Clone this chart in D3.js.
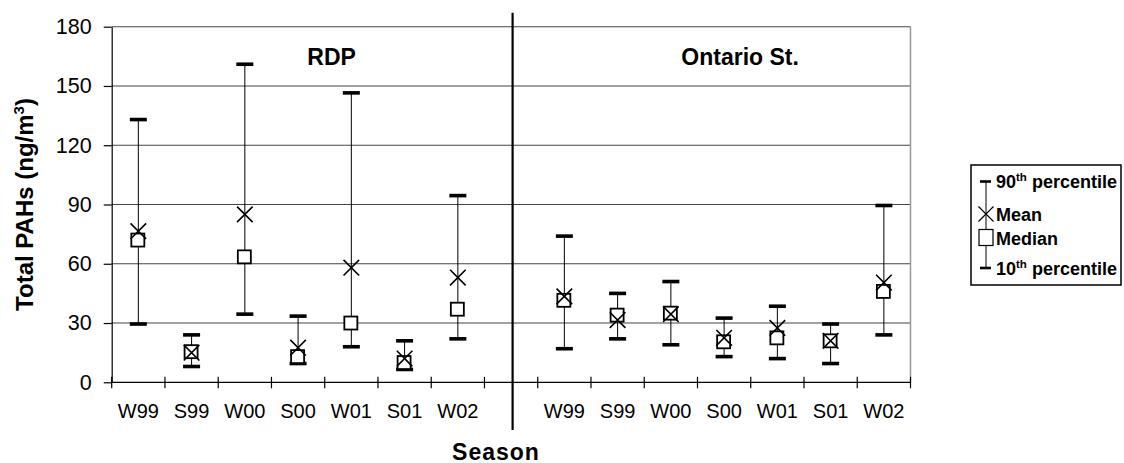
<!DOCTYPE html>
<html>
<head>
<meta charset="utf-8">
<script src="https://cdn.jsdelivr.net/npm/d3@7"></script>
<style>
  html, body { margin: 0; padding: 0; background: #fff; }
  svg { display: block; font-family: "Liberation Sans", Arial, sans-serif; }
</style>
</head>
<body>
<svg id="chart" width="1124" height="463"></svg>
<script>
// ---- data ----
const sites = ["RDP", "Ontario St."];
const seasons = ["W99", "S99", "W00", "S00", "W01", "S01", "W02"];
const rdpP90    = [133, 24, 161, 33.5, 146.5, 21, 94.5];
const rdpP10    = [29.5, 8, 34.5, 9.5, 18, 6.5, 22];
const rdpMean   = [76.5, 15, 85, 17.5, 58, 12, 53];
const rdpMedian = [72, 15.5, 63.5, 13, 30, 10, 37];
const ontP90    = [74, 45, 51, 32.5, 38.5, 29.5, 89.5];
const ontP10    = [17, 22, 19, 13, 12, 9.5, 24];
const ontMean   = [43.5, 31.5, 34.5, 22.5, 27.5, 21, 50.5];
const ontMedian = [41.5, 34, 35, 20.5, 22.5, 21, 46];
const yTicks = [0, 30, 60, 90, 120, 150, 180];
const legendLabels = ["90th percentile", "Mean", "Median", "10th percentile"];

// ---- build rows ----
const rows = [];
seasons.forEach((s, i) => rows.push({site: sites[0], season: s, key: sites[0] + "|" + s,
  p90: rdpP90[i], p10: rdpP10[i], mean: rdpMean[i], median: rdpMedian[i]}));
seasons.forEach((s, i) => rows.push({site: sites[1], season: s, key: sites[1] + "|" + s,
  p90: ontP90[i], p10: ontP10[i], mean: ontMean[i], median: ontMedian[i]}));
const domain = [...rows.slice(0, 7).map(d => d.key), "gap", ...rows.slice(7).map(d => d.key)];

const svg = d3.select("#chart");
const L = 111.7, R = 910.5, T = 26.7, B = 382.3;

const x = d3.scaleBand().domain(domain).range([L, R]).padding(0);
const y = d3.scaleLinear().domain([0, 180]).range([B, T]);
const bw = x.bandwidth();

// gridlines
svg.append("g").selectAll("line").data(yTicks.filter(v => v > 0)).join("line")
  .attr("x1", L).attr("x2", R)
  .attr("y1", d => y(d)).attr("y2", d => y(d))
  .attr("stroke", "#444").attr("stroke-width", 1.1);

// right border
svg.append("line").attr("x1", R).attr("x2", R).attr("y1", T).attr("y2", B)
  .attr("stroke", "#999").attr("stroke-width", 1.5);

// y axis
const yAxis = d3.axisLeft(y).tickValues(yTicks).tickSize(8).tickSizeOuter(0).tickPadding(12);
const gy = svg.append("g").attr("transform", `translate(${L},0)`).call(yAxis);
gy.select(".domain").attr("stroke", "#000").attr("stroke-width", 1.2);
gy.selectAll(".tick line").attr("stroke", "#000").attr("stroke-width", 1.2);
gy.selectAll(".tick text").attr("font-size", 21.5).attr("fill", "#000")
  .attr("font-family", "'Liberation Sans', Arial, sans-serif");

// x axis line and ticks at band boundaries
svg.append("line").attr("x1", L).attr("x2", R).attr("y1", B).attr("y2", B)
  .attr("stroke", "#000").attr("stroke-width", 1.2);
const bounds = domain.map(k => x(k)).concat([x(domain[domain.length - 1]) + bw]);
svg.append("g").selectAll("line").data(bounds).join("line")
  .attr("x1", d => d).attr("x2", d => d).attr("y1", B - 5.5).attr("y2", B + 6)
  .attr("stroke", "#000").attr("stroke-width", 1.2);
svg.append("g").selectAll("text").data(rows).join("text")
  .attr("x", d => x(d.key) + bw / 2).attr("y", 418)
  .attr("text-anchor", "middle").attr("font-size", 20).attr("fill", "#000")
  .text(d => d.season);

// separator
const sepX = x("gap") + bw / 2 + 1.5;
svg.append("line").attr("x1", sepX).attr("x2", sepX).attr("y1", 12.7).attr("y2", 430)
  .attr("stroke", "#000").attr("stroke-width", 2.2);

// panel titles
svg.append("text").attr("x", x(domain[3]) + bw * 1.13).attr("y", 64.5)
  .attr("text-anchor", "middle").attr("font-weight", "bold").attr("font-size", 23)
  .text(sites[0]);
svg.append("text").attr("x", x(domain[11]) + bw * 0.8).attr("y", 64.5)
  .attr("text-anchor", "middle").attr("font-weight", "bold").attr("font-size", 23)
  .text(sites[1]);

// marks
const g = svg.append("g");
const cx = d => x(d.key) + bw / 2;
g.selectAll(".whisker").data(rows).join("line").attr("class", "whisker")
  .attr("x1", cx).attr("x2", cx).attr("y1", d => y(d.p10)).attr("y2", d => y(d.p90))
  .attr("stroke", "#000").attr("stroke-width", 1);
["p90", "p10"].forEach(k => {
  g.selectAll(".cap-" + k).data(rows).join("rect").attr("class", "cap-" + k)
    .attr("x", d => cx(d) - 8.5).attr("y", d => y(d[k]) - 1.8)
    .attr("width", 17).attr("height", 3.6).attr("fill", "#000");
});
g.selectAll(".median").data(rows).join("rect").attr("class", "median")
  .attr("x", d => cx(d) - 7).attr("y", d => y(d.median) - 6.5)
  .attr("width", 13).attr("height", 13)
  .attr("fill", "#fff").attr("stroke", "#000").attr("stroke-width", 1.8);
const xs = 7.8;
g.selectAll(".mean").data(rows).join("path").attr("class", "mean")
  .attr("d", d => {
    const px = cx(d), py = y(d.mean);
    return `M${px - xs},${py - xs}L${px + xs},${py + xs}M${px - xs},${py + xs}L${px + xs},${py - xs}`;
  })
  .attr("fill", "none").attr("stroke", "#000").attr("stroke-width", 1.6);

// axis titles
svg.append("text").attr("transform", `translate(33,${(T + B) / 2}) rotate(-90)`)
  .attr("text-anchor", "middle").attr("font-weight", "bold").attr("font-size", 24)
  .call(t => {
    t.append("tspan").text("Total PAHs (ng/m");
    t.append("tspan").attr("font-size", 15).attr("dy", -9).text("3");
    t.append("tspan").attr("dy", 9).text(")");
  });
svg.append("text").attr("x", 496).attr("y", 459.5)
  .attr("text-anchor", "middle").attr("font-weight", "bold").attr("font-size", 23)
  .attr("letter-spacing", 1).text("Season");

// legend
const lg = svg.append("g");
lg.append("rect").attr("x", 971).attr("y", 165).attr("width", 150).attr("height", 120)
  .attr("fill", "#fff").attr("stroke", "#000").attr("stroke-width", 1.5);
const lx = 986;
const rowY = [181.5, 214, 237.5, 268];
lg.append("line").attr("x1", lx).attr("x2", lx).attr("y1", rowY[0]).attr("y2", rowY[3])
  .attr("stroke", "#000").attr("stroke-width", 1);
[0, 3].forEach(i => lg.append("rect").attr("x", lx - 6).attr("y", rowY[i] - 1.3)
  .attr("width", 11).attr("height", 2.6).attr("fill", "#000"));
lg.append("rect").attr("x", lx - 7).attr("y", rowY[2] - 8).attr("width", 14).attr("height", 16)
  .attr("fill", "#fff").attr("stroke", "#000").attr("stroke-width", 1.2);
lg.append("path")
  .attr("d", `M${lx - 7.5},${rowY[1] - 7.5}L${lx + 7.5},${rowY[1] + 7.5}M${lx - 7.5},${rowY[1] + 7.5}L${lx + 7.5},${rowY[1] - 7.5}`)
  .attr("stroke", "#000").attr("stroke-width", 1.2).attr("fill", "none");
const textBase = [188.3, 220.5, 244.5, 275];
legendLabels.forEach((lab, i) => {
  const t = lg.append("text").attr("x", 996).attr("y", textBase[i])
    .attr("font-weight", "bold").attr("font-size", 18);
  const m = lab.match(/^(\d+)(th)(.*)$/);
  if (m) {
    t.append("tspan").text(m[1]);
    t.append("tspan").attr("font-size", 11.5).attr("dy", -7).text(m[2]);
    t.append("tspan").attr("dy", 7).text(m[3]);
  } else {
    t.text(lab);
  }
});
</script>
</body>
</html>
